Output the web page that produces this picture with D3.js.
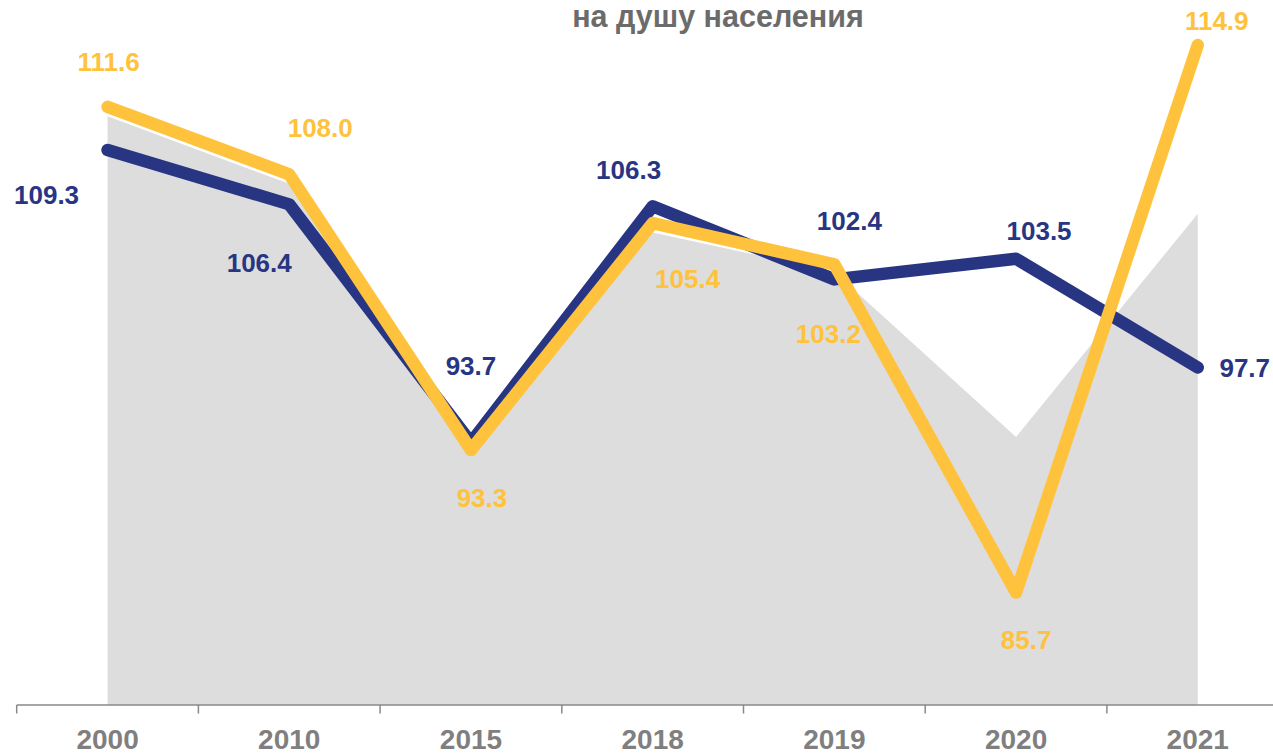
<!DOCTYPE html>
<html>
<head>
<meta charset="utf-8">
<script src="https://cdn.jsdelivr.net/npm/d3@7"></script>
<style>
  body { margin: 0; background: #fff; }
  svg { display: block; font-family: Arial, "Liberation Sans", sans-serif; }
</style>
</head>
<body>
<div id="chart"></div>
<script>
var years = ['2000', '2010', '2015', '2018', '2019', '2020', '2021'];
var blueValues = [109.3, 106.4, 93.7, 106.3, 102.4, 103.5, 97.7];
var yellowValues = [111.6, 108.0, 93.3, 105.4, 103.2, 85.7, 114.9];
var grayValues = [111.1, 107.5, 93.3, 104.9, 102.8, 94.0, 105.9];

// label offsets from the point (dx, dy to baseline)
var blueOffsets = [[-61, 54], [-30, 68], [0, -68], [-24, -27], [15, -49], [23, -19], [47, 9]];
var yellowOffsets = [[1, -36], [31, -37], [11, 57], [35, 65], [-6, 79], [10, 56], [19, -15]];

var width = 1273,
    height = 754;

var blue = '#283583',
    yellow = '#ffc23d',
    gray = '#dddddd';

var svg = d3.select('#chart').append('svg')
  .attr('width', width)
  .attr('height', height);

var x = d3.scaleBand()
  .domain(years)
  .range([16.7, 16.7 + 181.7 * 7])
  .paddingInner(0)
  .paddingOuter(0);

var y = d3.scaleLinear()
  .domain([79.7, 117.3])
  .range([705, 0]);

function cx(i) { return x(years[i]) + x.bandwidth() / 2; }

// title
svg.append('text')
  .attr('x', 718)
  .attr('y', 27)
  .attr('text-anchor', 'middle')
  .style('font-size', '30.5px')
  .style('font-weight', 'bold')
  .style('fill', '#6b6b6b')
  .text('на душу населения');

// gray area
var area = d3.area()
  .x(function(d, i) { return cx(i); })
  .y0(y.range()[0])
  .y1(function(d) { return y(d); });

svg.append('path')
  .datum(grayValues)
  .attr('d', area)
  .style('fill', gray);

// axis
var axis = d3.axisBottom(x).tickSize(0).tickSizeOuter(0);
var gx = svg.append('g')
  .attr('transform', 'translate(0,' + y.range()[0] + ')')
  .call(axis);

gx.select('.domain')
  .attr('d', 'M' + x.range()[0] + ',0H' + width)
  .style('stroke', '#898989')
  .style('stroke-width', 1.5);

gx.selectAll('.tick text')
  .attr('y', 44)
  .attr('dy', null)
  .style('font-size', '28px')
  .style('font-weight', 'bold')
  .style('fill', '#7f7f7f')
  .style('font-family', 'Arial, "Liberation Sans", sans-serif');

gx.selectAll('.boundary')
  .data(years)
  .enter().append('line')
  .attr('class', 'boundary')
  .attr('x1', function(d) { return x(d); })
  .attr('x2', function(d) { return x(d); })
  .attr('y1', 0)
  .attr('y2', 8.5)
  .style('stroke', '#898989')
  .style('stroke-width', 1.5);

// lines
var line = d3.line()
  .x(function(d, i) { return cx(i); })
  .y(function(d) { return y(d); });

function drawSeries(values, color, offsets) {
  svg.append('path')
    .datum(values)
    .attr('d', line)
    .style('fill', 'none')
    .style('stroke', color)
    .style('stroke-width', 12.5)
    .style('stroke-linejoin', 'round')
    .style('stroke-linecap', 'round');

  svg.append('g').selectAll('text')
    .data(values)
    .enter().append('text')
    .attr('x', function(d, i) { return cx(i) + offsets[i][0]; })
    .attr('y', function(d, i) { return y(d) + offsets[i][1]; })
    .attr('text-anchor', 'middle')
    .style('font-size', '26px')
    .style('font-weight', 'bold')
    .style('fill', color)
    .text(function(d) { return d.toFixed(1); });
}

drawSeries(blueValues, blue, blueOffsets);
drawSeries(yellowValues, yellow, yellowOffsets);
</script>
</body>
</html>
